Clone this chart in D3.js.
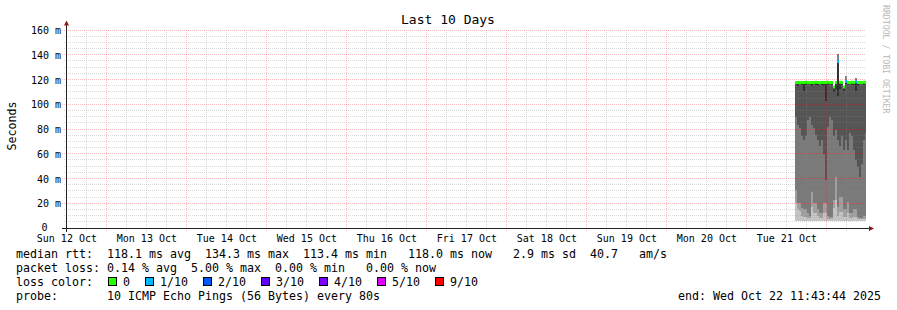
<!DOCTYPE html>
<meta charset="utf-8">
<html>
<head>
<script src="https://cdn.jsdelivr.net/npm/d3@7"></script>
<style>
  body { margin: 0; background: #fff; }
  svg text { font-family: "DejaVu Sans Mono", monospace; white-space: pre; }
</style>
</head>
<body>
<script>
// graph time window
var endTime = new Date("2025-10-22T11:43:44Z");
var startTime = new Date(endTime.getTime() - 10 * 864e5);
var yTicks = [0, 20, 40, 60, 80, 100, 120, 140, 160];

// smoke columns, one every 36 minutes (ms)
var colStart = new Date("2025-10-21T14:26:00Z");
var colStepMin = 36;
var median  = [117.6,117.6,117.4,117.6,117.6,117.8,117.6,117.4,117.6,117.6,117.8,117.6,117.4,117.6,117.6,117.6,117.8,117.6,117.6,114.0,117.6,134.5,117.8,117.6,114.0,118.6,117.6,117.6,117.8,117.6,118.2,117.6,117.6,117.6,117.8,117.6];
var ping1   = [5.8,5.6,5.7,5.8,5.6,5.7,5.8,5.7,5.6,5.8,5.7,5.6,5.7,5.8,5.7,5.6,5.8,5.7,5.6,5.7,5.8,5.6,5.7,5.8,5.7,5.6,5.7,5.8,5.6,5.7,5.8,5.7,5.6,5.7,5.8,5.7];
var ping2   = [20,15,14,10,9,9,8,8,17,12,12,10,8,8,12,12,7,7,7,16,23,10,13,13,9,9,12,8,8,9,9,7,7,7,7,7];
var ping3   = [31,20,20,16,15,15,12,10,29,20,20,15,12,12,20,20,10,9,9,23,41,17,25,25,15,15,21,12,12,15,15,9,8,8,10,10];
var ping4   = [90,83,81,74,71,74,87,90,83,81,75,71,66,71,60,39,82,90,87,74,79,71,66,74,63,71,63,77,74,63,55,49,41,52,71,77];
var ping5   = [116.6,114.8,116.4,115.2,111,115.6,116.6,115.4,114.6,116.6,115.8,114.8,116.4,115.6,114.6,103,115.8,116.6,115.6,110,112,107,112,115.6,111,116.6,115.6,116.6,115.8,115.6,111,114.6,116.6,116.6,115.8,116.6];
var ping6   = [117.6,117.6,117.4,117.6,117.6,117.8,117.6,117.4,117.6,117.6,117.8,117.6,117.4,117.6,117.6,117.6,117.8,117.6,117.6,114.0,117.6,134,117.8,117.6,114.0,119,117.6,117.6,117.8,117.6,119,117.6,117.6,117.6,117.8,117.6];
var pingMax = [117.6,117.6,117.4,117.6,117.6,117.8,117.6,117.4,117.6,117.6,117.8,117.6,117.4,117.6,117.6,117.6,117.8,117.6,117.6,114.0,117.6,141,117.8,117.6,114.0,123,117.6,117.6,117.8,117.6,121,117.6,117.6,117.6,117.8,117.6];
var lossLevel = [0,0,0,0,0,0,0,0,0,0,0,0,0,0,0,0,0,0,0,0,0,1,0,0,0,1,0,0,0,0,1,0,0,0,0,0];

// legend
var lossLabels = ["0", "1/10", "2/10", "3/10", "4/10", "5/10", "9/10"];
var lossColors = ["#26ff00", "#00b8ff", "#0059ff", "#5e00ff", "#7e00ff", "#dd00ff", "#ff0000"];
var rttStats = ["118.1", "134.3", "113.4", "118.0", "2.9", "40.7"];
var lossStats = ["0.14", "5.00", "0.00", "0.00"];

var W = 897, H = 310;
var svg = d3.select("body").append("svg")
  .attr("width", W).attr("height", H).style("display", "block");
svg.append("rect").attr("width", W).attr("height", H).attr("fill", "#fff");

var x = d3.scaleUtc().domain([startTime, endTime]).range([66, 866]);
var y = d3.scaleLinear().domain([0, 160]).range([228, 30]);
var px = function (t) { return Math.floor(x(t)) + 0.5; };
var py = function (v) { return Math.floor(y(v)) + 0.5; };

// smoke
var cols = median.map(function (m, i) {
  var t0 = d3.utcMinute.offset(colStart, i * colStepMin);
  var t1 = d3.utcMinute.offset(colStart, (i + 1) * colStepMin);
  if (t1 > endTime) t1 = endTime;
  return { t0: t0, t1: t1, med: m, loss: lossLevel[i],
    bands: [[ping1[i], ping2[i], "#c4c4c4"], [ping2[i], ping3[i], "#a0a0a0"],
            [ping3[i], ping4[i], "#7a7a7a"], [ping4[i], ping5[i], "#555555"],
            [ping5[i], ping6[i], "#303030"], [ping6[i], pingMax[i], "#808080"]] };
});
var smoke = svg.append("g").attr("shape-rendering", "crispEdges");
cols.forEach(function (c) {
  c.bands.filter(function (b) { return b[1] > b[0]; }).forEach(function (b) {
    smoke.append("rect")
      .attr("x", Math.round(x(c.t0)))
      .attr("width", Math.round(x(c.t1)) - Math.round(x(c.t0)))
      .attr("y", y(b[1]))
      .attr("height", y(b[0]) - y(b[1]))
      .attr("fill", b[2]);
  });
});

// grid (drawn over the smoke, translucent like rrdtool)
var minorCol = "rgba(140,140,140,0.32)", majorCol = "rgba(255,0,0,0.26)";
var grid = svg.append("g").attr("shape-rendering", "crispEdges");
var hMinor = d3.range(5, 161, 5).filter(function (v) { return v % 20; });
var hMajor = yTicks.filter(function (v) { return v > 0; });
grid.selectAll(".hmin").data(hMinor).enter().append("line")
  .attr("x1", 64).attr("x2", 866).attr("y1", py).attr("y2", py)
  .attr("stroke", minorCol).attr("stroke-dasharray", "1,1");
grid.selectAll(".hmaj").data(hMajor).enter().append("line")
  .attr("x1", 62).attr("x2", 866).attr("y1", py).attr("y2", py)
  .attr("stroke", majorCol).attr("stroke-dasharray", "1,1");
var vMajor = d3.utcDay.range(startTime, endTime);
var vMinor = d3.utcHour.every(6).range(startTime, endTime)
  .filter(function (t) { return t.getUTCHours() !== 0; });
grid.selectAll(".vmin").data(vMinor).enter().append("line")
  .attr("x1", px).attr("x2", px).attr("y1", 30).attr("y2", 231)
  .attr("stroke", minorCol).attr("stroke-dasharray", "1,1");
grid.selectAll(".vmaj").data(vMajor).enter().append("line")
  .attr("x1", px).attr("x2", px).attr("y1", 30).attr("y2", 232)
  .attr("stroke", majorCol).attr("stroke-dasharray", "1,1");

// median line, coloured by loss
svg.append("g").selectAll("line").data(cols).enter().append("line")
  .attr("x1", function (c) { return Math.round(x(c.t0)); })
  .attr("x2", function (c) { return Math.round(x(c.t1)); })
  .attr("y1", function (c) { return y(c.med); })
  .attr("y2", function (c) { return y(c.med); })
  .attr("stroke", function (c) { return lossColors[c.loss]; })
  .attr("stroke-width", 3);

// axes and arrows
var ax = svg.append("g").attr("shape-rendering", "crispEdges");
ax.append("line").attr("x1", 62).attr("x2", 870).attr("y1", 228.5).attr("y2", 228.5).attr("stroke", "#222");
ax.append("line").attr("x1", 66.5).attr("x2", 66.5).attr("y1", 232).attr("y2", 25).attr("stroke", "#222");
svg.append("path").attr("d", "M64,25.5L69,25.5L66.5,20.5Z").attr("fill", "#8b1a1a");
svg.append("path").attr("d", "M869,226L869,231L874,228.5Z").attr("fill", "#8b1a1a");

// axis labels
svg.selectAll(".ylab").data(yTicks).enter().append("text")
  .attr("x", function (v) { return v === 0 ? 47.5 : 61; })
  .attr("y", function (v) { return v === 0 ? y(v) + 3 : y(v) + 4; })
  .attr("text-anchor", "end").attr("font-size", "10px").attr("fill", "#000")
  .text(function (v) { return v === 0 ? "0" : v + " m"; });
var noons = d3.utcHour.range(startTime, endTime)
  .filter(function (t) { return t.getUTCHours() === 12; });
svg.selectAll(".xlab").data(noons).enter().append("text")
  .attr("x", function (t) { return x(t); }).attr("y", 241.5)
  .attr("text-anchor", "middle").attr("font-size", "10px").attr("fill", "#000")
  .text(d3.utcFormat("%a %d %b"));

svg.append("text").attr("x", 448).attr("y", 24).attr("text-anchor", "middle")
  .attr("font-size", "13px").attr("fill", "#000").text("Last 10 Days");
svg.append("text").attr("transform", "translate(15.5,126) rotate(-90)")
  .attr("text-anchor", "middle").attr("font-size", "11.6px").attr("fill", "#000").text("Seconds");
svg.append("text").attr("transform", "translate(883,5) rotate(90)")
  .attr("font-size", "8.2px").attr("fill", "#b8b8b8").text("RRDTOOL / TOBI OETIKER");

// legend
var fs = "11.63px", cw = 7;
function legendLine(str, yy) {
  svg.append("text").attr("x", 16).attr("y", yy).attr("font-size", fs).attr("fill", "#000").text(str);
}
legendLine("median rtt:  " + rttStats[0] + " ms avg  " + rttStats[1] + " ms max  " + rttStats[2] +
  " ms min   " + rttStats[3] + " ms now   " + rttStats[4] + " ms sd  " + rttStats[5] + "   am/s", 258);
legendLine("packet loss: " + lossStats[0] + " % avg  " + lossStats[1] + " % max  " + lossStats[2] +
  " % min   " + lossStats[3] + " % now", 272);
legendLine("loss color:", 286);
var lx = 108;
lossLabels.forEach(function (lab, i) {
  svg.append("rect").attr("x", lx + 0.5).attr("y", 277.5).attr("width", 8).attr("height", 8)
    .attr("fill", lossColors[i]).attr("stroke", "#000").attr("shape-rendering", "crispEdges");
  svg.append("text").attr("x", lx + 15).attr("y", 286).attr("font-size", fs).attr("fill", "#000").text(lab);
  lx += 15 + lab.length * cw + 15;
});
legendLine("probe:", 300);
svg.append("text").attr("x", 16 + 13 * cw).attr("y", 300).attr("font-size", fs).attr("fill", "#000")
  .text("10 ICMP Echo Pings (56 Bytes) every 80s");
svg.append("text").attr("x", 881).attr("y", 300).attr("text-anchor", "end").attr("font-size", fs)
  .attr("fill", "#000").text("end: " + d3.utcFormat("%a %b %d %H:%M:%S %Y")(endTime));
</script>
</body>
</html>
